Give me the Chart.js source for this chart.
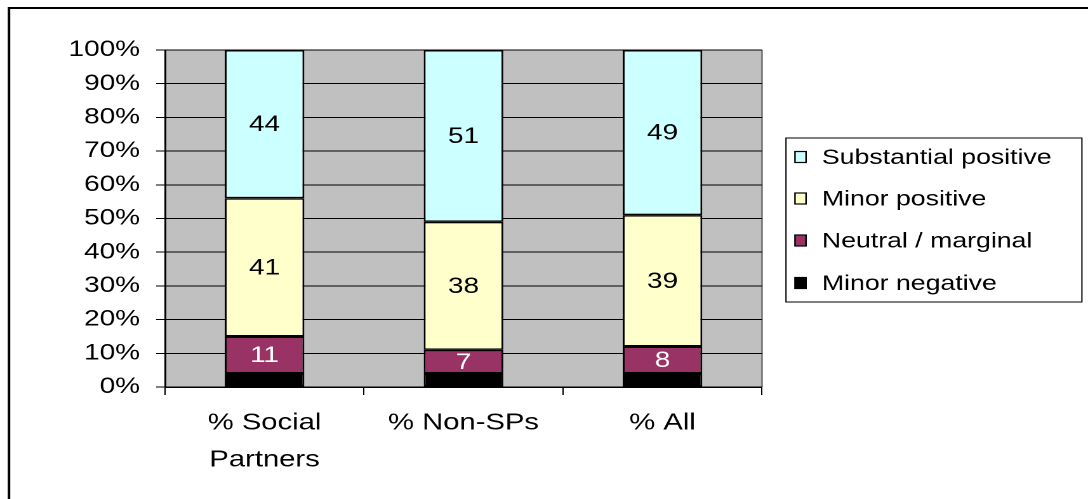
<!DOCTYPE html>
<html>
<head>
<meta charset="utf-8">
<script src="https://cdn.jsdelivr.net/npm/chart.js@4.4.1/dist/chart.umd.min.js"></script>
<style>
  html, body { margin: 0; padding: 0; background: #fff; overflow: hidden; }
  #wrap { width: 857px; height: 499px; transform: scaleX(1.26954); transform-origin: 0 0; }
  canvas { display: block; }
</style>
</head>
<body>
<div id="wrap"><canvas id="c" width="857" height="499"></canvas></div>
<script>
// ---- data ----
const categories = [['% Social', 'Partners'], '% Non-SPs', '% All'];
const seriesNames = ['Minor negative', 'Neutral / marginal', 'Minor positive', 'Substantial positive'];
const minorNegative = [4, 4, 4];
const neutralMarginal = [11, 7, 8];
const minorPositive = [41, 38, 39];
const substantialPositive = [44, 51, 49];
const yTickLabels = ['0%', '10%', '20%', '30%', '40%', '50%', '60%', '70%', '80%', '90%', '100%'];
const seriesColors = ['#000000', '#993366', '#FFFFCC', '#CCFFFF'];
const labelColors = [null, '#FFFFFF', '#000000', '#000000'];

const FONT = "'Liberation Sans', Arial, sans-serif";

const bgPlugin = {
  id: 'bg',
  beforeDraw(chart) {
    const {ctx, chartArea: a} = chart;
    ctx.save();
    ctx.fillStyle = '#C0C0C0';
    ctx.fillRect(a.left, a.top, a.right - a.left, a.bottom - a.top);
    ctx.strokeStyle = '#808080';
    ctx.lineWidth = 1.5;
    ctx.beginPath();
    ctx.moveTo(a.right, a.top);
    ctx.lineTo(a.right, a.bottom);
    ctx.stroke();
    // outer chart frame (top + left visible)
    ctx.strokeStyle = '#000';
    ctx.lineWidth = 2;
    ctx.beginPath();
    ctx.moveTo(7.1, chart.height + 5);
    ctx.lineTo(7.1, 8);
    ctx.lineTo(chart.width + 5, 8);
    ctx.stroke();
    ctx.restore();
  }
};

const labelsPlugin = {
  id: 'vals',
  afterDatasetsDraw(chart) {
    const ctx = chart.ctx;
    ctx.save();
    ctx.font = '22px ' + FONT;
    ctx.textAlign = 'center';
    ctx.textBaseline = 'middle';
    chart.data.datasets.forEach((ds, di) => {
      if (!labelColors[di]) return;
      const meta = chart.getDatasetMeta(di);
      meta.data.forEach((el, i) => {
        ctx.fillStyle = labelColors[di];
        ctx.fillText(String(ds.data[i]), el.x, (el.y + el.base) / 2 + 1);
      });
    });
    ctx.restore();
  }
};

const legendPlugin = {
  id: 'customLegend',
  afterDraw(chart) {
    const ctx = chart.ctx;
    const x0 = 619.1, x1 = 852.2, y0 = 138, y1 = 302;
    ctx.save();
    ctx.fillStyle = '#fff';
    ctx.fillRect(x0, y0, x1 - x0, y1 - y0);
    ctx.strokeStyle = '#000';
    ctx.lineWidth = 1;
    ctx.strokeRect(x0, y0, x1 - x0, y1 - y0);
    ctx.font = '21px ' + FONT;
    ctx.textAlign = 'left';
    ctx.textBaseline = 'middle';
    const ys = [157, 198.5, 240.5, 283];
    const order = chart.data.datasets.map((d, i) => i).reverse();
    order.forEach((di, k) => {
      const ds = chart.data.datasets[di];
      const y = ys[k];
      ctx.fillStyle = ds.backgroundColor;
      ctx.fillRect(626.2, y - 5.5, 8.7, 11);
      ctx.lineWidth = 1.2;
      ctx.strokeStyle = '#000';
      ctx.strokeRect(626.2, y - 5.5, 8.7, 11);
      ctx.fillStyle = '#000';
      ctx.fillText(ds.label, 647.4, y + 1);
    });
    ctx.restore();
  }
};

const datasets = [minorNegative, neutralMarginal, minorPositive, substantialPositive].map((d, i) => ({
  label: seriesNames[i],
  data: d,
  backgroundColor: seriesColors[i],
  borderColor: '#000',
  borderWidth: 1.5,
  borderSkipped: false,
  barPercentage: 0.4,
  categoryPercentage: 1.0
}));

new Chart(document.getElementById('c'), {
  type: 'bar',
  data: { labels: categories, datasets },
  options: {
    responsive: false,
    animation: false,
    devicePixelRatio: 2,
    layout: { padding: { left: 0, top: 50, right: 256.8, bottom: 0 } },
    plugins: { legend: { display: false }, tooltip: { enabled: false } },
    scales: {
      x: {
        stacked: true,
        grid: { display: true, drawOnChartArea: false, drawTicks: true, tickLength: 8, color: '#000', offset: true },
        border: { display: true, color: '#000', width: 1.5 },
        ticks: { color: '#000', font: { family: FONT, size: 23, lineHeight: 1.6 }, padding: 10, maxRotation: 0, autoSkip: false },
        afterFit(scale) { scale.height = 112; }
      },
      y: {
        stacked: true,
        min: 0, max: 100,
        grid: { color: '#000', lineWidth: 1, tickLength: 7.1, drawTicks: true },
        border: { display: true, color: '#000', width: 1.5 },
        ticks: {
          stepSize: 10,
          color: '#000',
          font: { family: FONT, size: 22 },
          padding: 12.6,
          callback: (v, idx) => yTickLabels[idx]
        },
        afterFit(scale) { scale.width = 130; }
      }
    }
  },
  plugins: [bgPlugin, labelsPlugin, legendPlugin]
});
</script>
</body>
</html>
